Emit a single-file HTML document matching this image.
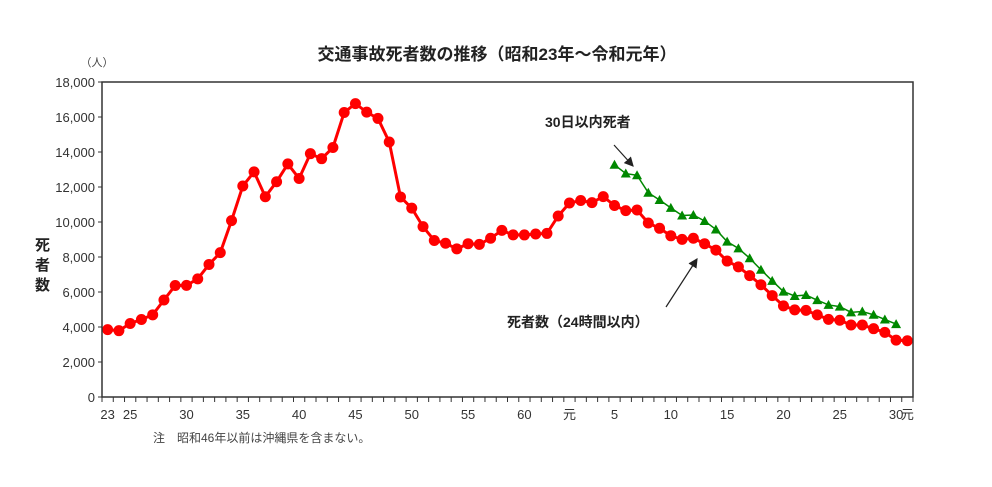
<!DOCTYPE html>
<html><head><meta charset="utf-8"><style>
body{margin:0;background:#fff;}
svg{font-family:"Liberation Sans","Noto Sans CJK JP",sans-serif;}
</style></head><body>
<svg id="c" width="992" height="482">
<defs><marker id="ah" markerWidth="8" markerHeight="8" refX="7" refY="4" orient="auto"><path d="M0,0 L8,4 L0,8 z" fill="#222"/></marker></defs>
<text x="497" y="60" text-anchor="middle" font-size="17" font-weight="bold" fill="#222">交通事故死者数の推移（昭和23年～令和元年）</text>
<text x="97" y="66" text-anchor="middle" font-size="11" fill="#444">（人）</text>
<g font-size="15" font-weight="bold" fill="#222">
<text x="35" y="250">死</text><text x="35" y="270">者</text><text x="35" y="290">数</text></g>
<g id="yt"></g><g id="xt"></g><g id="marks"></g>
<text x="545" y="127" font-size="14" font-weight="bold" fill="#222">30日以内死者</text>
<line x1="614" y1="145" x2="633" y2="166" stroke="#222" stroke-width="1.2" marker-end="url(#ah)"/>
<text x="507" y="327" font-size="14" font-weight="bold" fill="#222">死者数（24時間以内）</text>
<line x1="666" y1="307" x2="697" y2="259" stroke="#222" stroke-width="1.2" marker-end="url(#ah)"/>
<text x="153" y="442" font-size="12" fill="#444">注　昭和46年以前は沖縄県を含まない。</text>
</svg>
<script>
const years=[];for(let y=1948;y<=2019;y++)years.push(y);
const deaths24=[3848,3790,4202,4429,4696,5544,6374,6379,6751,7575,8248,10079,12055,12865,11445,12301,13318,12484,13904,13618,14256,16257,16765,16278,15918,14574,11432,10792,9734,8945,8783,8466,8760,8719,9073,9520,9262,9261,9317,9347,10344,11086,11227,11109,11451,10942,10649,10684,9942,9640,9211,9006,9073,8757,8396,7768,7436,6937,6415,5796,5209,4979,4948,4691,4438,4388,4113,4117,3904,3694,3250,3215];
const deaths30Start=1993;
const deaths30=[13269,12768,12670,11674,11254,10805,10372,10403,10060,9575,8877,8492,7931,7272,6639,6023,5772,5828,5535,5261,5165,4838,4885,4698,4431,4166];
const yTicks=[0,2000,4000,6000,8000,10000,12000,14000,16000,18000];
const xLabels=[[1948,"23"],[1950,"25"],[1955,"30"],[1960,"35"],[1965,"40"],[1970,"45"],[1975,"50"],[1980,"55"],[1985,"60"],[1989,"元"],[1993,"5"],[1998,"10"],[2003,"15"],[2008,"20"],[2013,"25"],[2018,"30"],[2019,"元"]];
const L=102,R=913,T=82,B=397,NS="http://www.w3.org/2000/svg";
const bw=(R-L)/years.length;
const x=yr=>L+(yr-1948+0.5)*bw;
const y=v=>B-(v/18000)*(B-T);
function mk(t,a,p){const e=document.createElementNS(NS,t);for(const k in a)e.setAttribute(k,a[k]);p.appendChild(e);return e;}
const svg=document.getElementById('c'),yt=document.getElementById('yt'),xt=document.getElementById('xt'),m=document.getElementById('marks');
const fr=mk('rect',{x:L,y:T,width:R-L,height:B-T,fill:'none',stroke:'#333','stroke-width':1.5},svg);


yTicks.forEach(v=>{
 const t=mk('text',{x:L-7,y:y(v)+5,'text-anchor':'end','font-size':13,fill:'#333'},yt);t.textContent=v.toLocaleString('en-US');
 
 
 mk('line',{x1:L-4,x2:L,y1:y(v),y2:y(v),stroke:'#333'},yt);
});
for(let i=0;i<=years.length;i++)mk('line',{x1:L+i*bw,x2:L+i*bw,y1:B,y2:B+5,stroke:'#333'},xt);
xLabels.forEach(([yr,s])=>{
 const t=mk('text',{x:x(yr),y:B+22,'text-anchor':'middle','font-size':13,fill:'#333'},xt);t.textContent=s;
 
 
});
const p1=mk('polyline',{points:deaths24.map((v,i)=>x(years[i])+','+y(v)).join(' '),fill:'none',stroke:'#f00','stroke-width':3},m);


deaths24.forEach((v,i)=>{const c=mk('circle',{cx:x(years[i]),cy:y(v),r:5.5,fill:'#f00'},m);
 
 });
const p2=mk('polyline',{points:deaths30.map((v,i)=>x(deaths30Start+i)+','+y(v)).join(' '),fill:'none',stroke:'#080','stroke-width':1.5},m);


deaths30.forEach((v,i)=>{const cx=x(deaths30Start+i),cy=y(v);
 const t=mk('polygon',{points:`${cx},${cy-5} ${cx-5},${cy+4} ${cx+5},${cy+4}`,fill:'#080'},m);
 
 });
</script>
</body></html>
